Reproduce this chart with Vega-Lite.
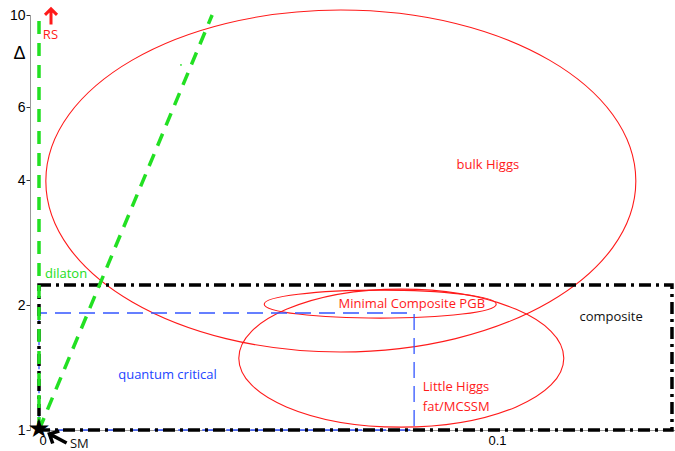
{
  "$schema": "https://vega.github.io/schema/vega-lite/v6.json",
  "autosize": "none",
  "padding": {"left": 39, "top": 15, "right": 0, "bottom": 21},
  "width": 636,
  "height": 415,
  "config": {"view": {"stroke": null}},
  "datasets": {
    "ellipses": [
      {"name": "bulk Higgs", "x": 0.0659, "y": 3.98},
      {"name": "Minimal Composite PGB", "x": 0.0745, "y": 2.01},
      {"name": "Little Higgs", "x": 0.0791, "y": 1.49}
    ],
    "green": [
      {"line": "vertical", "x": 0, "y": 1},
      {"line": "vertical", "x": 0, "y": 10},
      {"line": "diagonal", "x": 0, "y": 1},
      {"line": "diagonal", "x": 0.0378, "y": 10}
    ],
    "boxes": [
      {"box": "quantum critical", "x": 0, "x2": 0.0819, "y": 1, "y2": 1.914},
      {"box": "composite", "x": 0, "x2": 0.1382, "y": 1, "y2": 2.236}
    ],
    "labels": [
      {"text": "bulk Higgs", "x": 0.098, "y": 4.35, "group": "red", "align": "center"},
      {"text": "Minimal Composite PGB", "x": 0.0814, "y": 2.01, "group": "red", "align": "center"},
      {"text": "Little Higgs", "x": 0.0838, "y": 1.269, "group": "red", "align": "left"},
      {"text": "fat/MCSSM", "x": 0.0838, "y": 1.136, "group": "red", "align": "left"},
      {"text": "RS", "x": 0.0025, "y": 8.95, "group": "red", "align": "center"},
      {"text": "composite", "x": 0.1249, "y": 1.872, "group": "black", "align": "center"},
      {"text": "SM", "x": 0.0088, "y": 0.927, "group": "black", "align": "center"},
      {"text": "quantum critical", "x": 0.02806, "y": 1.357, "group": "blue", "align": "center"},
      {"text": "dilaton", "x": 0.0059, "y": 2.376, "group": "green", "align": "center"}
    ],
    "arrows": [
      {"arrow": "RS", "x": 0.00262, "y": 9.92},
      {"arrow": "SM", "x": 0.0041, "y": 0.955}
    ],
    "stars": [{"name": "SM", "x": 0, "y": 1}],
    "speck": [{"x": 0.031, "y": 7.58}]
  },
  "encoding": {
    "x": {
      "field": "x", "type": "quantitative",
      "scale": {"domain": [0, 0.13886], "nice": false, "zero": false},
      "axis": {"values": [0, 0.1], "format": "~g", "title": null, "grid": false, "ticks": false,
               "domainColor": "#999", "labelFont": "Liberation Sans", "labelFontSize": 13,
               "labelColor": "#000", "labelPadding": 4}
    },
    "y": {
      "field": "y", "type": "quantitative",
      "scale": {"type": "log", "domain": [1, 10], "nice": false},
      "axis": {"values": [1, 2, 4, 6, 10], "format": "~g", "grid": false, "offset": 9,
               "domainColor": "#999", "tickColor": "#333", "tickSize": 4, "labelPadding": 1,
               "labelFont": "Liberation Sans", "labelFontSize": 14, "labelColor": "#000",
               "title": "Δ", "titleAngle": 0, "titleFont": "Liberation Sans", "titleFontSize": 18,
               "titleFontWeight": "normal", "titleAlign": "center", "titleBaseline": "middle",
               "titleX": -11, "titleY": 38}
    }
  },
  "layer": [
    {
      "data": {"name": "ellipses"},
      "transform": [{"filter": "datum.name == 'bulk Higgs'"}],
      "mark": {"type": "point", "filled": false, "stroke": "#ff1a1a", "strokeWidth": 1.1, "opacity": 1,
               "size": 348100,
               "shape": "M-1,0C-1,-0.3202,-0.5523,-0.5797,0,-0.5797C0.5523,-0.5797,1,-0.3202,1,0C1,0.3202,0.5523,0.5797,0,0.5797C-0.5523,0.5797,-1,0.3202,-1,0Z"}
    },
    {
      "data": {"name": "ellipses"},
      "transform": [{"filter": "datum.name == 'Minimal Composite PGB'"}],
      "mark": {"type": "point", "filled": false, "stroke": "#ff1a1a", "strokeWidth": 1.1, "opacity": 1,
               "size": 53824,
               "shape": "M-1,0C-1,-0.0667,-0.5523,-0.1207,0,-0.1207C0.5523,-0.1207,1,-0.0667,1,0C1,0.0667,0.5523,0.1207,0,0.1207C-0.5523,0.1207,-1,0.0667,-1,0Z"}
    },
    {
      "data": {"name": "ellipses"},
      "transform": [{"filter": "datum.name == 'Little Higgs'"}],
      "mark": {"type": "point", "filled": false, "stroke": "#ff1a1a", "strokeWidth": 1.1, "opacity": 1,
               "size": 105625,
               "shape": "M-1,0C-1,-0.2345,-0.5523,-0.4246,0,-0.4246C0.5523,-0.4246,1,-0.2345,1,0C1,0.2345,0.5523,0.4246,0,0.4246C-0.5523,0.4246,-1,0.2345,-1,0Z"}
    },
    {
      "data": {"name": "boxes"},
      "transform": [{"filter": "datum.box == 'quantum critical'"}],
      "mark": {"type": "rect", "fill": null, "fillOpacity": 0, "stroke": "#3355ff", "strokeWidth": 1.3, "strokeDash": [16, 8], "strokeDashOffset": 8},
      "encoding": {"x2": {"field": "x2"}, "y2": {"field": "y2"}}
    },
    {
      "data": {"name": "boxes"},
      "transform": [{"filter": "datum.box == 'composite'"}],
      "mark": {"type": "rect", "fill": null, "fillOpacity": 0, "stroke": "#000", "strokeWidth": 3.5, "strokeDash": [12, 5, 3, 5]},
      "encoding": {"x2": {"field": "x2"}, "y2": {"field": "y2"}}
    },
    {
      "data": {"name": "green"},
      "mark": {"type": "line", "color": "#22e022", "strokeWidth": 3.5, "strokeDash": [13, 9]},
      "encoding": {"detail": {"field": "line"}}
    },
    {
      "data": {"name": "speck"},
      "mark": {"type": "point", "filled": true, "color": "#22e022", "size": 3, "opacity": 1}
    },
    {
      "data": {"name": "labels"},
      "transform": [{"filter": "datum.align == 'center'"}],
      "mark": {"type": "text", "font": "Open Sans", "fontSize": 13, "baseline": "middle", "align": "center"},
      "encoding": {
        "text": {"field": "text"},
        "color": {"field": "group", "type": "nominal", "legend": null,
                  "scale": {"domain": ["red", "black", "blue", "green"], "range": ["#ff1a1a", "#111111", "#2244ff", "#22dd22"]}}
      }
    },
    {
      "data": {"name": "labels"},
      "transform": [{"filter": "datum.align == 'left'"}],
      "mark": {"type": "text", "font": "Open Sans", "fontSize": 13, "baseline": "middle", "align": "left"},
      "encoding": {
        "text": {"field": "text"},
        "color": {"field": "group", "type": "nominal", "legend": null,
                  "scale": {"domain": ["red", "black", "blue", "green"], "range": ["#ff1a1a", "#111111", "#2244ff", "#22dd22"]}}
      }
    },
    {
      "data": {"name": "arrows"},
      "transform": [{"filter": "datum.arrow == 'RS'"}],
      "mark": {"type": "point", "filled": false, "stroke": "#ff1a1a", "strokeWidth": 3, "opacity": 1,
               "size": 256, "strokeCap": "butt",
               "shape": "M-0.75,-0.2L0,-0.95L0.75,-0.2M0,-0.95L0,1"}
    },
    {
      "data": {"name": "arrows"},
      "transform": [{"filter": "datum.arrow == 'SM'"}],
      "mark": {"type": "point", "filled": false, "stroke": "#000", "strokeWidth": 3.5, "opacity": 1,
               "size": 400, "angle": -62, "strokeCap": "butt",
               "shape": "M-0.7,-0.2L0,-0.95L0.7,-0.2M0,-0.95L0,1"}
    },
    {
      "data": {"name": "stars"},
      "mark": {"type": "text", "text": "★", "font": "DejaVu Sans", "fontSize": 26, "color": "#000", "baseline": "middle", "align": "center", "dy": -1}
    }
  ]
}
